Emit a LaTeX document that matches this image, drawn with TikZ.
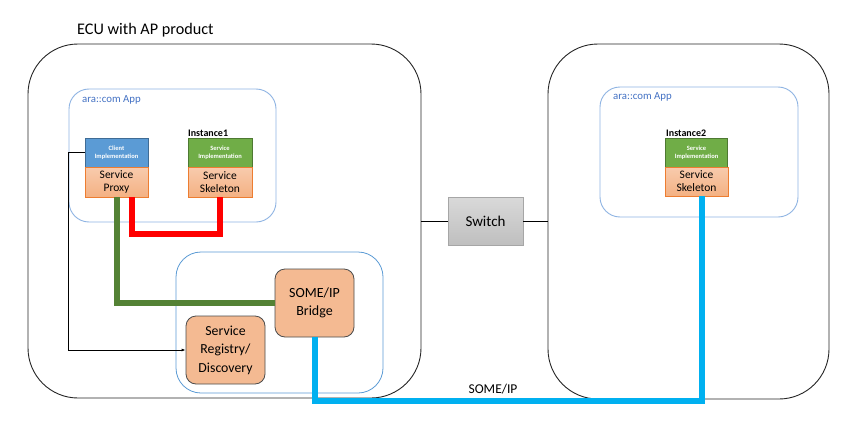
\documentclass[tikz,border=0pt]{standalone}
\usepackage{fontspec}
\setmainfont{Carlito}
\usetikzlibrary{arrows.meta}
\definecolor{appblue}{HTML}{8FB4E3}
\definecolor{apptext}{HTML}{4472C4}
\definecolor{implblue}{HTML}{5B9BD5}
\definecolor{implgreen}{HTML}{70AD47}
\definecolor{orangeTop}{HTML}{F8CBAD}
\definecolor{orangeBot}{HTML}{F4B183}
\definecolor{orangeEdge}{HTML}{ED7D31}
\definecolor{peach}{HTML}{F4BA92}
\definecolor{lineGreen}{HTML}{548235}
\definecolor{lineBlue}{HTML}{00B0F0}
\definecolor{swTop}{HTML}{D9D9D9}
\definecolor{swBot}{HTML}{BFBFBF}
\definecolor{swEdge}{HTML}{A6A6A6}
\begin{document}
\begin{tikzpicture}[x=1pt,y=-1pt,
  ecubox/.style={draw=black!85,line width=0.9pt,rounded corners=50pt,inner sep=0pt},
  appbox/.style={draw=appblue,line width=0.9pt,rounded corners=20pt,inner sep=0pt},
  implbox/.style={draw=#1!70!black,fill=#1,line width=0.6pt,text=white,align=center,font=\fontsize{6.5}{8}\selectfont\bfseries,inner sep=0pt},
  skelbox/.style={draw=orangeEdge,top color=orangeTop,bottom color=orangeBot,line width=0.8pt,align=center,font=\fontsize{11.5}{13}\selectfont,inner sep=0pt},
  peachbox/.style={draw=black!70,fill=peach,rounded corners=10pt,line width=0.8pt,align=center,font=\fontsize{14}{17.5}\selectfont,minimum width=79pt,minimum height=68pt,inner sep=0pt},
  thick6/.style={line width=6pt}
]
\useasboundingbox (0,0) rectangle (845,420);
\fill[white] (0,0) rectangle (845,420);

% big boxes
\node[ecubox,minimum width=393pt,minimum height=354pt] (ecu) at (224.5,221) {};
\node[ecubox,minimum width=281pt,minimum height=355pt] (ecu2) at (688.5,221.5) {};
\node[anchor=west,inner sep=0pt,font=\fontsize{16.2}{19}\selectfont] (title) at (77,30.5) {ECU with AP product};

% app boxes
\node[appbox,minimum width=207pt,minimum height=133pt] (app1) at (172.5,155.5) {};
\node[anchor=west,inner sep=0pt,text=apptext,font=\fontsize{10.8}{12}\selectfont] (app1lbl) at (82,100) {ara::com App};
\node[appbox,minimum width=198pt,minimum height=130pt] (app2) at (699,152) {};
\node[anchor=west,inner sep=0pt,text=apptext,font=\fontsize{10.8}{12}\selectfont] (app2lbl) at (613,97) {ara::com App};

% inner box
\node[draw=implblue,line width=0.8pt,rounded corners=25pt,minimum width=207pt,minimum height=141pt,inner sep=0pt] (inner) at (279.5,322.5) {};

% client / service components
\node[implbox=implblue,minimum width=63pt,minimum height=29pt] (client) at (116.5,152.5) {Client\\Implementation};
\node[skelbox,minimum width=63pt,minimum height=30pt] (proxy) at (116.5,182) {Service\\Proxy};
\node[implbox=implgreen,minimum width=64pt,minimum height=29pt] (impl1) at (220,152.5) {Service\\Implementation};
\node[skelbox,minimum width=64pt,minimum height=30pt] (skel1) at (220,182) {Service\\Skeleton};
\node[anchor=south west,inner sep=0pt,font=\fontsize{10}{12}\selectfont\bfseries] (inst1) at (188,137) {Instance1};

\node[implbox=implgreen,minimum width=62pt,minimum height=29pt] (impl2) at (696.5,152.5) {Service\\Implementation};
\node[skelbox,minimum width=63pt,minimum height=29pt] (skel2) at (696.5,181.5) {Service\\Skeleton};
\node[anchor=south west,inner sep=0pt,font=\fontsize{10}{12}\selectfont\bfseries] (inst2) at (666,137) {Instance2};

% bridge and registry
\node[peachbox] (bridge) at (314.5,303) {SOME/IP\\Bridge};
\node[peachbox,font=\fontsize{13.8}{18.5}\selectfont] (registry) at (225.5,350) {Service\\Registry/\\Discovery};

% switch
\node[draw=swEdge,top color=swTop,bottom color=swBot,line width=0.8pt,minimum width=75pt,minimum height=48pt,font=\fontsize{15}{17}\selectfont] (switch) at (485.5,221) {Switch};
\draw[line width=0.8pt] (ecu.east |- switch.west) -- (switch.west);
\draw[line width=0.8pt] (switch.east) -- (ecu2.west |- switch.east);

% connectors
\draw[line width=0.8pt,-{Latex[length=4pt,width=3pt]}] (client.west) -- ++(-16,0) |- (registry.west);
\draw[thick6,draw=lineGreen] (proxy.south) |- (bridge.west);
\draw[thick6,draw=red] ([xshift=15pt]proxy.south) -- ++(0,37) -| (skel1.south);
\draw[thick6,draw=lineBlue] (bridge.south) -- ++(0,64) -| ([xshift=5pt]skel2.south);
\node[font=\fontsize{13.5}{15}\selectfont] (someip) at (493,389) {SOME/IP};
\end{tikzpicture}
\end{document}
